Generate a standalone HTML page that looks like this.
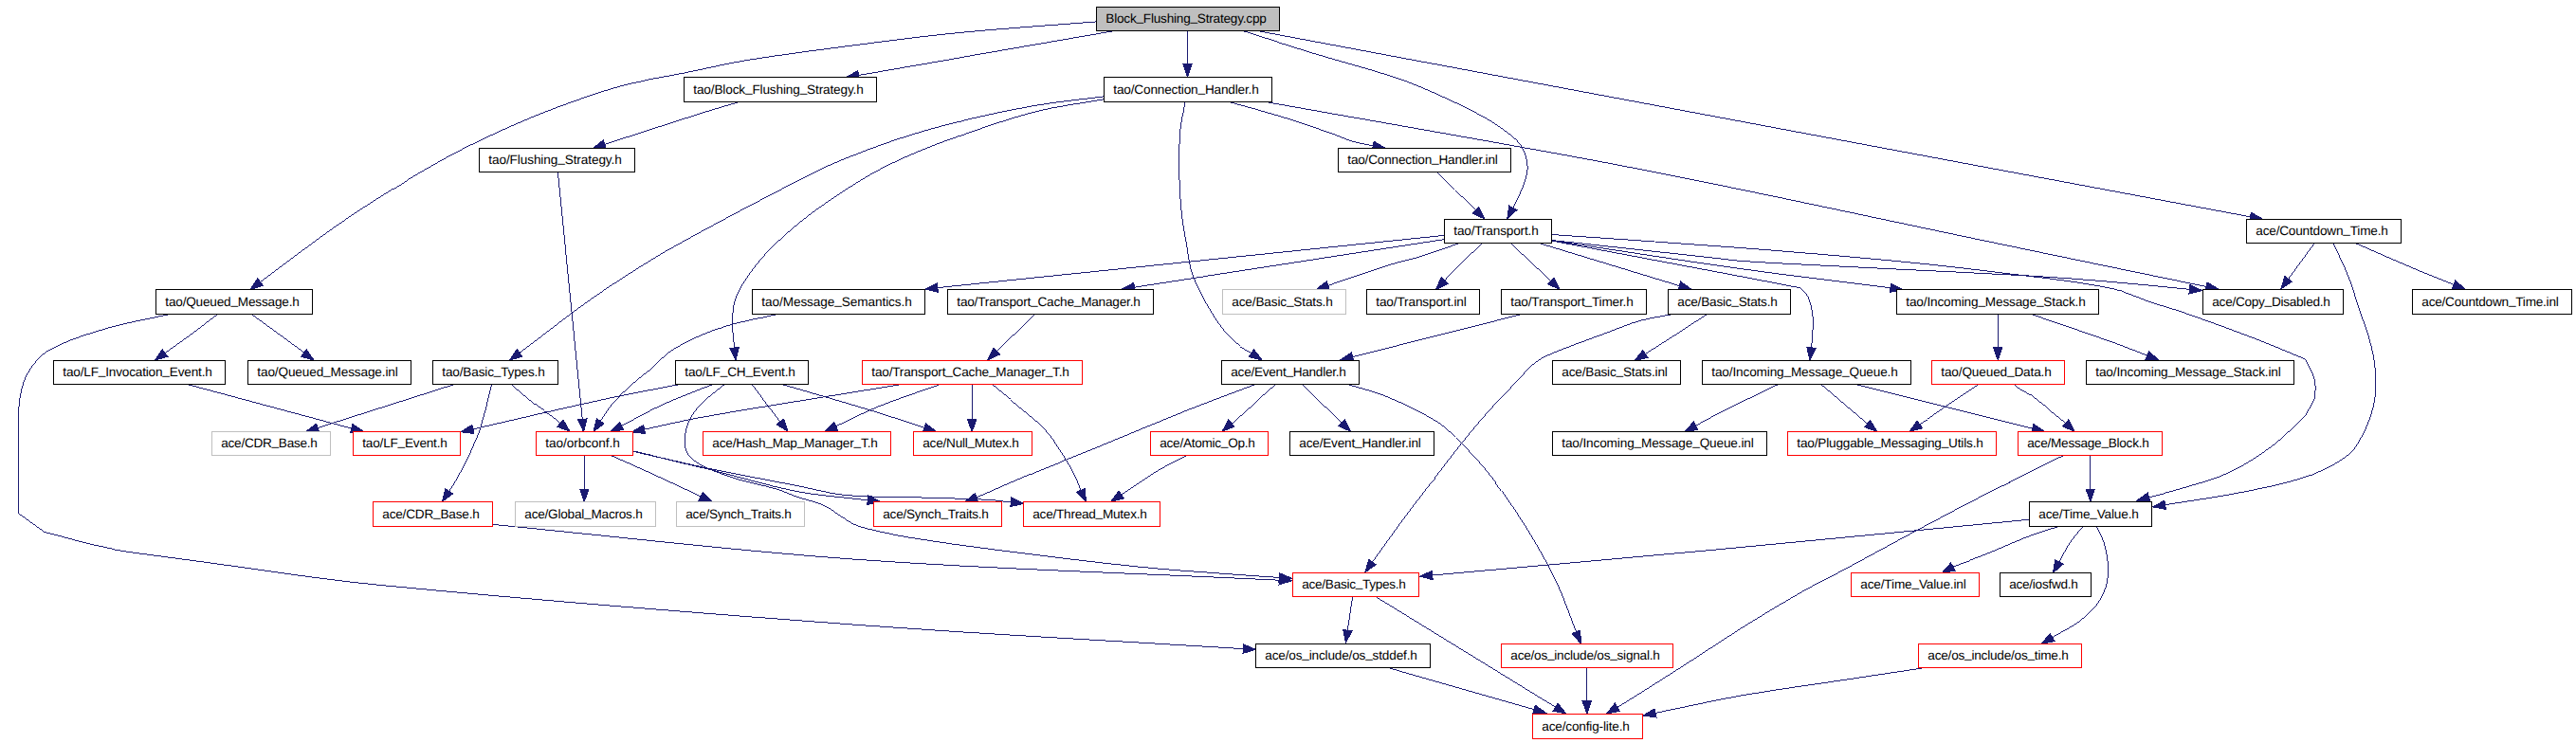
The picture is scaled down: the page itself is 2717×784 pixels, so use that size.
<!DOCTYPE html>
<html><head><meta charset="utf-8"><title>Block_Flushing_Strategy.cpp include graph</title>
<style>
html,body{margin:0;padding:0;background:#fff;width:2717px;height:784px;overflow:hidden;}
svg{display:block;}
text{font-family:"Liberation Sans",sans-serif;text-rendering:geometricPrecision;}
</style></head><body>
<svg width="2717" height="784" viewBox="0 0 2717 784">
<g fill="none" stroke="#191970" stroke-width="0.99" shape-rendering="crispEdges">
<path d="M1175.8,32.5 L905.5,79.3"/>
<path d="M1252.5,32.5 L1252.5,67.8"/>
<path d="M1308.5,32.1 C1333.9,40.1 1359.3,48.3 1384.8,56.1 C1414.9,65.3 1445.5,72.9 1475.3,83.0 C1492.7,88.9 1509.5,96.6 1526.2,104.2 C1539.6,110.3 1552.9,116.7 1565.8,124.0 C1574.7,129.0 1583.2,134.6 1591.2,140.9 C1596.4,145.0 1601.9,149.3 1605.3,155.1 C1608.7,161.0 1610.5,168.0 1611.0,174.8 C1611.5,180.5 1609.9,186.3 1608.2,191.8 C1606.1,198.7 1602.7,205.1 1599.7,211.6 C1598.5,214.2 1597.1,216.7 1595.8,219.2"/>
<path d="M1156.0,22.9 C1107.5,26.8 1059.0,29.9 1010.6,34.6 C973.6,38.2 936.8,43.1 900.0,47.9 C862.5,52.8 824.9,57.5 787.6,63.6 C765.6,67.2 744.0,72.5 722.2,76.9 C703.6,80.6 684.9,83.3 666.5,87.8 C650.1,91.8 634.0,96.9 618.0,102.4 C598.4,109.1 579.1,116.4 559.9,124.2 C545.2,130.2 530.7,136.7 516.3,143.5 C501.6,150.4 486.9,157.5 472.7,165.3 C453.0,176.1 433.6,187.4 414.5,199.3 C393.6,212.3 372.8,225.6 352.7,239.8 C326.2,258.4 300.6,278.4 274.6,297.6"/>
<path d="M1326.0,32.5 L2373.5,228.8"/>
<path d="M779.1,107.7 C767.4,111.2 755.6,114.4 744.0,118.1 C708.6,129.3 673.2,140.9 637.9,152.3"/>
<path d="M588.4,181.4 L614.2,442.4"/>
<path d="M1296.0,107.5 C1314.0,112.5 1332.1,117.1 1350.0,122.6 C1368.3,128.2 1386.5,134.6 1404.6,140.9 C1412.2,143.5 1419.5,147.1 1427.2,149.4 C1434.1,151.4 1441.3,152.3 1448.3,153.8"/>
<path d="M1164.5,101.8 C1140.4,105.0 1116.2,107.2 1092.3,111.3 C1065.2,116.0 1038.2,121.8 1011.5,128.3 C989.7,133.6 968.2,139.8 946.9,146.8 C925.1,154.0 903.6,162.4 882.3,171.1 C871.3,175.6 860.6,181.0 850.0,186.4 C828.6,197.2 807.4,208.4 786.2,219.5 C771.1,227.5 756.0,235.5 741.0,243.7 C723.7,253.2 706.2,262.5 689.3,272.8 C667.4,286.2 645.7,300.1 624.6,314.8 C602.5,330.2 581.5,347.1 560.0,363.3 C556.0,366.3 552.0,369.3 548.0,372.3"/>
<path d="M1164.5,104.7 C1140.4,109.1 1116.0,111.8 1092.3,117.8 C1064.9,124.8 1038.2,134.4 1011.5,143.6 C995.2,149.2 979.0,155.4 963.1,162.2 C949.4,168.1 935.8,174.4 922.7,181.6 C908.8,189.2 895.5,197.8 882.3,206.6 C869.3,215.3 856.5,224.2 844.4,234.0 C832.0,244.1 819.9,254.8 808.9,266.4 C800.5,275.3 792.9,285.1 786.2,295.4 C781.6,302.5 777.2,310.0 774.9,318.1 C772.6,326.4 772.7,335.3 772.7,343.9 C772.7,352.6 774.2,361.2 774.9,369.8 C775.0,370.7 774.7,368.0 774.6,367.1"/>
<path d="M1249.8,107.5 C1249.0,112.0 1248.1,116.5 1247.4,121.0 C1246.3,127.7 1244.9,134.3 1244.5,141.1 C1243.7,155.2 1243.5,169.3 1243.8,183.4 C1244.1,197.5 1244.9,211.6 1246.3,225.7 C1247.3,235.5 1249.2,245.3 1251.0,255.0 C1253.3,267.5 1254.1,280.5 1258.7,292.3 C1265.0,308.5 1273.9,323.6 1283.3,338.2 C1289.2,347.3 1296.6,355.5 1304.5,362.9 C1308.9,367.1 1314.7,369.4 1319.9,372.7"/>
<path d="M1334.8,107.5 C1439.9,126.2 1545.0,144.3 1650.0,163.5 C1704.1,173.4 1758.1,184.0 1812.0,195.0 C1907.3,214.5 2002.4,235.1 2097.7,255.0 C2174.1,271.0 2250.6,286.7 2327.1,302.5"/>
<path d="M1516.3,181.9 C1522.4,188.0 1528.5,194.2 1534.7,200.3 C1541.9,207.5 1549.2,214.6 1556.4,221.7"/>
<path d="M1523.3,248.4 L988.9,303.6"/>
<path d="M1523.3,252.6 L1196.5,303.0"/>
<path d="M1538.8,256.8 C1525.9,261.2 1513.0,265.9 1500.0,270.0 C1489.8,273.2 1479.2,275.3 1469.0,278.5 C1446.1,285.7 1423.5,293.7 1400.7,301.3"/>
<path d="M1563.3,256.9 C1556.1,263.7 1548.8,270.3 1541.8,277.2 C1535.6,283.3 1529.7,289.7 1523.6,296.0"/>
<path d="M1593.6,256.9 C1599.5,262.4 1605.5,268.0 1611.4,273.5 C1619.5,281.1 1627.7,288.8 1635.8,296.5"/>
<path d="M1624.2,256.8 L1771.4,301.6"/>
<path d="M1636.6,254.0 C1703.1,266.6 1769.5,279.1 1836.0,291.7 C1857.1,295.7 1878.1,299.8 1899.2,303.9 C1901.9,307.1 1905.6,309.7 1907.2,313.6 C1910.0,320.2 1911.5,327.4 1912.1,334.6 C1912.8,342.7 1911.7,350.8 1911.3,358.9 C1911.2,361.6 1910.7,364.2 1910.4,366.9"/>
<path d="M1636.6,253.8 C1703.1,263.7 1769.4,274.3 1836.0,283.6 C1888.6,290.9 1941.3,297.0 1993.9,303.7"/>
<path d="M1636.6,253.5 C1694.7,259.8 1752.9,266.1 1811.0,272.5 C1819.3,273.4 1827.6,274.8 1836.0,275.4 C1857.3,277.0 1878.7,277.9 1900.0,279.0 C1933.3,280.7 1966.7,282.3 2000.0,284.0 C2048.4,286.4 2096.8,288.5 2145.2,291.3 C2171.6,292.9 2198.0,295.0 2224.4,297.2 C2252.7,299.6 2281.0,302.6 2309.4,305.3"/>
<path d="M1636.6,247.5 C1703.1,252.2 1769.6,256.4 1836.0,261.5 C1890.7,265.7 1945.4,270.3 2000.0,275.5 C2037.5,279.1 2074.9,283.3 2112.2,288.0 C2149.7,292.7 2187.4,296.4 2224.4,303.8 C2240.8,307.1 2256.0,314.8 2271.9,320.0 C2281.5,323.2 2291.3,325.7 2300.9,329.0 C2327.4,338.3 2353.8,347.8 2380.0,357.9 C2397.3,364.5 2414.2,372.0 2431.3,379.0 C2434.5,386.0 2439.2,392.5 2441.0,400.0 C2442.5,406.3 2442.6,413.2 2441.0,419.5 C2439.3,426.5 2434.5,432.4 2431.3,438.9 C2420.0,449.3 2409.6,460.8 2397.3,470.0 C2382.9,480.8 2367.7,490.8 2351.4,498.5 C2335.3,506.1 2317.9,510.2 2300.9,515.4 C2289.6,518.9 2278.0,521.6 2266.5,524.7"/>
<path d="M2440.7,257.3 L2413.6,294.3"/>
<path d="M2484.4,256.6 C2506.3,266.1 2528.1,275.7 2550.0,285.0 C2562.6,290.3 2575.4,295.3 2588.1,300.4"/>
<path d="M2460.8,256.2 C2466.2,268.0 2472.1,279.6 2476.9,291.7 C2480.7,301.2 2483.4,311.1 2486.6,320.8 C2491.5,335.8 2497.5,350.6 2501.2,366.0 C2504.0,377.6 2505.7,389.6 2506.0,401.6 C2506.2,411.3 2505.2,421.2 2502.8,430.6 C2500.3,440.7 2496.3,450.5 2491.5,459.7 C2487.6,467.1 2483.6,475.0 2476.9,480.0 C2464.4,489.4 2450.2,496.7 2435.5,501.9 C2413.7,509.7 2390.9,514.1 2368.2,518.7 C2340.2,524.4 2311.8,528.1 2283.6,532.7"/>
<path d="M229.3,331.7 C219.8,338.9 210.5,346.2 200.9,353.3 C192.0,359.8 183.0,366.1 174.0,372.5"/>
<path d="M264.5,331.7 L320.4,372.4"/>
<path d="M179.0,331.5 C157.0,336.5 134.6,340.0 113.0,346.4 C92.4,352.5 71.5,358.7 52.7,369.0 C43.4,374.1 36.2,382.7 30.5,391.6 C25.5,399.4 23.0,408.8 21.3,417.9 C19.2,429.0 19.6,440.5 19.4,451.8 C18.9,481.7 19.4,511.7 19.4,541.6 C28.8,548.3 38.1,555.1 47.5,561.8 C71.5,567.8 95.4,574.5 119.6,579.7 C131.4,582.2 143.4,583.4 155.3,585.1 C170.2,587.2 185.1,589.0 200.0,591.0 C266.7,599.8 333.1,610.8 400.0,617.3 C568.5,633.6 737.2,647.0 906.0,659.5 C1041.0,669.5 1176.2,676.2 1311.3,684.6"/>
<path d="M818.6,331.6 C798.6,336.5 778.0,339.7 758.5,346.4 C741.7,352.2 725.3,359.5 710.0,368.7 C700.8,374.2 694.0,383.1 685.8,390.0 C679.4,395.4 672.4,400.2 666.2,405.8 C659.4,411.9 652.8,418.3 646.8,425.2 C641.9,430.9 638.1,437.4 633.8,443.5 C633.6,443.8 633.3,444.2 633.1,444.5"/>
<path d="M1091.1,332.2 L1051.3,370.6"/>
<path d="M1602.5,332.2 L1426.6,376.6"/>
<path d="M1800.8,331.3 C1788.2,339.5 1775.7,347.8 1763.1,355.9 C1753.9,361.8 1744.6,367.6 1735.4,373.4"/>
<path d="M1765.4,331.3 C1753.2,333.8 1740.7,335.3 1728.7,338.7 C1717.0,342.0 1705.8,347.1 1694.4,351.3 C1683.0,355.5 1671.5,359.5 1660.1,363.9 C1649.7,367.9 1639.1,371.5 1629.2,376.5 C1623.8,379.2 1618.9,382.8 1614.3,386.8 C1609.8,390.7 1606.3,395.7 1602.2,400.0 C1592.4,410.4 1582.1,420.4 1572.5,431.1 C1561.8,443.0 1551.6,455.3 1541.5,467.8 C1531.8,479.8 1522.6,492.3 1513.2,504.5 C1503.8,516.7 1494.3,528.9 1485.0,541.2 C1477.3,551.5 1469.9,561.9 1462.4,572.3 C1457.4,579.2 1452.5,586.1 1447.5,593.1"/>
<path d="M2107.2,332.2 L2107.2,366.6"/>
<path d="M2144.3,332.2 C2172.2,341.8 2200.2,351.1 2228.0,361.0 C2240.4,365.4 2252.5,370.5 2264.7,375.2"/>
<path d="M199.3,406.0 L370.8,452.1"/>
<path d="M477.9,406.0 L335.1,451.5"/>
<path d="M539.3,405.7 C547.4,412.5 555.2,419.7 563.5,426.2 C570.0,431.3 577.1,435.5 583.7,440.4 C586.2,442.3 588.5,444.5 590.9,446.6"/>
<path d="M518.4,406.0 C514.9,419.8 512.2,433.9 507.8,447.5 C503.9,459.6 499.0,471.3 493.7,482.8 C489.0,492.8 483.3,502.4 477.9,512.0 C476.6,514.2 475.1,516.3 473.7,518.4"/>
<path d="M717.2,405.5 C691.5,410.6 665.6,415.1 640.0,420.7 C592.8,430.9 545.9,442.1 498.9,452.9"/>
<path d="M750.9,405.9 C733.7,412.8 716.2,419.0 699.4,426.7 C684.5,433.5 670.3,441.8 655.7,449.3"/>
<path d="M793.4,405.9 C799.0,413.5 804.6,421.2 810.3,428.7 C814.4,434.2 818.7,439.5 822.9,445.0"/>
<path d="M826.1,405.9 C856.5,414.8 886.9,423.4 917.2,432.6 C936.6,438.5 955.7,445.1 974.9,451.3"/>
<path d="M763.7,405.9 C755.5,412.8 746.4,418.9 739.0,426.7 C733.7,432.4 729.1,438.9 726.0,446.0 C723.4,451.9 722.4,458.5 722.2,465.0 C722.1,469.5 722.9,474.3 725.1,478.2 C727.4,482.3 731.2,485.4 735.0,488.0 C739.9,491.4 745.4,493.7 750.9,496.0 C760.0,499.7 769.2,503.1 778.6,505.9 C791.7,509.7 805.1,512.0 818.2,515.8 C825.6,518.0 832.7,521.5 840.0,524.0 C849.8,527.4 860.2,529.3 869.7,533.6 C876.5,536.7 882.1,542.1 888.5,546.0 C893.2,548.9 897.8,552.2 903.0,554.2 C910.4,557.1 918.3,558.7 926.0,560.5 C937.7,563.2 949.4,565.6 961.2,567.5 C989.4,572.0 1017.7,576.0 1046.0,579.6 C1097.3,586.1 1148.6,592.7 1200.0,598.0 C1233.3,601.5 1266.7,603.5 1300.0,606.0 C1316.4,607.3 1332.8,608.3 1349.2,609.4"/>
<path d="M952.8,405.3 C921.1,410.4 889.5,415.5 857.8,420.7 C818.2,427.2 778.5,433.3 739.0,440.5 C719.1,444.1 699.4,448.9 679.6,453.1"/>
<path d="M992.4,405.3 C970.6,413.1 948.6,420.1 927.1,428.7 C911.6,434.9 896.8,442.8 881.7,449.8"/>
<path d="M1025.2,406.0 L1025.2,442.4"/>
<path d="M1045.5,405.5 C1058.8,416.4 1072.3,427.1 1085.4,438.2 C1091.6,443.5 1098.2,448.4 1103.6,454.5 C1108.5,460.0 1112.3,466.5 1116.3,472.7 C1121.4,480.4 1126.5,488.1 1130.9,496.3 C1134.5,503.0 1137.0,510.3 1140.1,517.3"/>
<path d="M1345.5,405.5 C1338.7,411.4 1332.0,417.4 1325.2,423.3 C1316.6,430.9 1308.1,438.4 1299.5,446.0 C1299.3,446.2 1299.1,446.4 1298.8,446.6"/>
<path d="M1373.3,405.5 L1415.2,446.2"/>
<path d="M1324.3,405.5 C1300.4,414.6 1276.3,423.2 1252.6,432.7 C1217.9,446.5 1183.6,461.3 1149.0,475.4 C1128.6,483.7 1107.9,491.5 1087.5,500.0 C1068.5,507.9 1049.8,516.3 1031.0,524.5 C1030.7,524.7 1030.3,524.8 1029.9,524.9"/>
<path d="M1421.4,405.5 C1435.1,409.8 1449.2,412.9 1462.4,418.4 C1480.8,426.1 1499.1,434.6 1516.0,445.2 C1525.6,451.2 1533.5,459.8 1541.5,467.8 C1551.4,477.7 1561.0,488.0 1569.7,498.9 C1579.8,511.5 1588.9,525.0 1598.0,538.4 C1605.5,549.4 1612.5,560.8 1619.2,572.3 C1627.2,586.2 1635.2,600.1 1641.9,614.6 C1649.7,631.6 1655.6,649.3 1662.5,666.7"/>
<path d="M1874.5,406.0 C1853.3,416.3 1832.0,426.4 1811.0,437.0 C1803.4,440.8 1796.1,445.2 1788.6,449.3"/>
<path d="M1920.8,405.6 C1927.0,410.9 1933.2,416.1 1939.4,421.4 C1946.7,427.6 1953.9,433.8 1961.2,440.0 C1964.0,442.4 1966.8,444.7 1969.6,447.0"/>
<path d="M1959.0,406.0 L2143.8,452.2"/>
<path d="M2087.0,405.6 C2078.2,411.4 2069.3,417.1 2060.6,423.0 C2050.1,430.1 2039.9,437.5 2029.5,444.7 C2028.0,445.8 2026.4,446.8 2024.9,447.9"/>
<path d="M2124.3,405.7 C2125.9,407.1 2127.4,408.6 2129.2,409.8 C2132.8,412.2 2137.0,413.6 2140.5,416.2 C2153.7,426.0 2166.3,436.7 2179.2,446.9 C2179.4,447.1 2178.8,446.5 2178.6,446.3"/>
<path d="M616.4,481.0 L616.3,516.2"/>
<path d="M645.4,481.0 C659.6,487.3 673.9,493.5 688.0,500.0 C705.1,507.8 722.2,515.9 739.2,523.8"/>
<path d="M667.5,476.5 C693.7,482.6 719.9,488.4 746.0,494.8 C777.4,502.4 808.3,512.3 840.0,518.5 C864.8,523.3 890.2,524.7 915.3,527.8"/>
<path d="M667.5,476.0 C693.7,482.0 719.7,488.5 746.0,494.0 C777.2,500.6 808.7,506.2 840.0,512.4 C856.2,515.6 872.1,520.1 888.5,522.1 C905.3,524.2 922.4,523.9 939.3,524.5 C952.6,524.9 966.0,524.8 979.3,525.1 C988.5,525.3 997.8,525.7 1007.0,526.0 C1018.6,526.4 1030.2,526.6 1041.8,527.3 C1047.2,527.6 1052.6,528.4 1058.0,529.0 C1060.8,529.3 1063.6,529.6 1066.4,529.9"/>
<path d="M1251.7,480.5 C1241.7,485.8 1231.4,490.5 1221.7,496.3 C1208.4,504.4 1195.7,513.5 1182.7,522.1"/>
<path d="M2204.8,481.0 L2204.8,516.0"/>
<path d="M2176.6,480.5 C2155.2,491.0 2133.7,501.2 2112.5,512.0 C2081.9,527.6 2051.5,543.8 2021.2,559.9 C1996.4,573.1 1971.9,586.7 1947.1,600.0 C1931.5,608.4 1915.4,616.0 1900.0,624.8 C1879.1,636.7 1858.5,649.2 1838.1,661.9 C1821.4,672.3 1805.2,683.5 1788.6,694.1 C1770.5,705.8 1752.3,717.3 1734.1,728.8 C1727.5,733.0 1720.9,737.1 1714.3,741.2 C1711.5,742.9 1708.7,744.6 1705.8,746.2"/>
<path d="M519.5,553.5 C648.3,565.8 776.9,581.4 906.0,590.5 C1053.5,600.9 1201.5,604.9 1349.2,612.2"/>
<path d="M2140.6,548.2 C2030.7,558.8 1920.9,569.6 1811.0,579.9 C1710.9,589.2 1610.8,598.0 1510.7,607.0"/>
<path d="M2170.6,555.8 C2161.2,558.8 2151.6,561.4 2142.3,564.9 C2125.9,571.1 2110.1,578.6 2093.8,585.1 C2083.1,589.4 2072.2,593.1 2061.5,597.2 C2060.9,597.4 2060.5,597.8 2059.9,598.1"/>
<path d="M2196.5,556.0 C2192.1,561.5 2187.2,566.7 2183.3,572.6 C2179.0,579.1 2175.7,586.2 2171.9,593.0"/>
<path d="M2211.6,556.0 C2214.1,561.5 2217.4,566.8 2219.1,572.6 C2221.4,580.6 2223.1,588.8 2223.4,597.1 C2223.7,604.7 2223.3,612.5 2221.0,619.7 C2218.6,627.2 2214.6,634.3 2209.7,640.4 C2204.4,647.0 2197.6,652.3 2190.8,657.3 C2183.7,662.4 2175.7,666.1 2168.2,670.5 C2167.0,671.2 2165.8,671.9 2164.6,672.6"/>
<path d="M1426.6,629.7 L1421.3,665.2"/>
<path d="M1451.1,629.7 L1640.7,746.2"/>
<path d="M1463.8,704.5 L1618.0,748.7"/>
<path d="M1673.8,704.5 L1673.8,739.9"/>
<path d="M2030.7,704.5 C2007.1,708.1 1983.6,711.6 1960.0,715.2 C1919.4,721.4 1878.6,726.7 1838.1,733.7 C1807.2,739.1 1776.7,746.2 1745.9,752.4"/>
</g>
<g fill="#191970" stroke="#191970" stroke-width="1" stroke-linejoin="miter" shape-rendering="crispEdges">
<polygon points="904.7,74.6 892.5,81.5 906.3,83.9"/>
<polygon points="1247.8,67.8 1252.5,81.0 1257.2,67.8"/>
<polygon points="1591.6,217.1 1589.8,231.0 1600.0,221.4"/>
<polygon points="271.8,293.9 264.0,305.5 277.4,301.4"/>
<polygon points="2372.7,233.4 2386.5,231.2 2374.4,224.1"/>
<polygon points="636.4,147.9 625.3,156.4 639.3,156.8"/>
<polygon points="609.5,442.8 615.5,455.5 618.9,441.9"/>
<polygon points="1447.3,158.4 1461.2,156.5 1449.2,149.2"/>
<polygon points="545.2,368.5 537.4,380.2 550.8,376.1"/>
<polygon points="769.9,367.6 776.0,380.2 779.3,366.6"/>
<polygon points="1317.3,376.7 1331.0,379.8 1322.4,368.7"/>
<polygon points="2326.1,307.1 2340.0,305.2 2328.0,297.9"/>
<polygon points="1553.1,225.1 1565.8,231.0 1559.7,218.4"/>
<polygon points="988.4,299.0 975.8,305.0 989.4,308.3"/>
<polygon points="1195.8,298.3 1183.5,305.0 1197.3,307.6"/>
<polygon points="1399.2,296.9 1388.2,305.5 1402.2,305.8"/>
<polygon points="1520.2,292.7 1514.4,305.5 1527.0,299.3"/>
<polygon points="1632.6,299.9 1645.4,305.5 1639.0,293.0"/>
<polygon points="1770.0,306.1 1784.0,305.4 1772.7,297.1"/>
<polygon points="1905.8,366.4 1909.0,380.0 1915.1,367.4"/>
<polygon points="1993.3,308.4 2007.0,305.4 1994.5,299.1"/>
<polygon points="2308.9,309.9 2322.5,306.5 2309.8,300.6"/>
<polygon points="2265.3,520.1 2253.8,528.1 2267.8,529.2"/>
<polygon points="2409.8,291.6 2405.8,305.0 2417.4,297.1"/>
<polygon points="2586.3,304.8 2600.3,305.4 2589.8,296.1"/>
<polygon points="2282.9,528.1 2270.6,534.9 2284.4,537.4"/>
<polygon points="171.3,368.7 163.3,380.2 176.8,376.3"/>
<polygon points="317.7,376.2 331.1,380.2 323.2,368.6"/>
<polygon points="1311.0,689.3 1324.5,685.4 1311.6,679.9"/>
<polygon points="629.2,441.9 625.8,455.5 637.0,447.1"/>
<polygon points="1048.0,367.3 1041.8,379.8 1054.6,374.0"/>
<polygon points="1425.4,372.0 1413.8,379.8 1427.7,381.1"/>
<polygon points="1732.8,369.5 1724.2,380.5 1737.9,377.4"/>
<polygon points="1443.7,590.3 1439.8,603.8 1451.3,595.8"/>
<polygon points="2102.5,366.6 2107.2,379.8 2111.9,366.6"/>
<polygon points="2263.0,379.6 2277.0,380.0 2266.4,370.8"/>
<polygon points="369.5,456.6 383.5,455.5 372.0,447.5"/>
<polygon points="333.7,447.0 322.5,455.5 336.5,456.0"/>
<polygon points="587.8,450.2 600.9,455.2 594.0,443.0"/>
<polygon points="469.8,515.8 466.4,529.4 477.6,521.0"/>
<polygon points="497.8,448.3 486.0,455.8 499.9,457.4"/>
<polygon points="653.6,445.2 644.0,455.4 657.9,453.5"/>
<polygon points="819.2,447.8 831.0,455.4 826.6,442.1"/>
<polygon points="973.5,455.8 987.5,455.4 976.4,446.9"/>
<polygon points="1348.9,614.1 1362.4,610.3 1349.6,604.7"/>
<polygon points="678.6,448.5 666.7,455.8 680.6,457.7"/>
<polygon points="879.7,445.6 869.7,455.4 883.7,454.1"/>
<polygon points="1020.5,442.4 1025.2,455.6 1029.9,442.4"/>
<polygon points="1135.8,519.2 1145.4,529.4 1144.4,515.4"/>
<polygon points="1295.7,443.1 1289.0,455.4 1302.0,450.1"/>
<polygon points="1412.0,449.6 1424.7,455.4 1418.5,442.8"/>
<polygon points="1028.3,520.5 1017.6,529.6 1031.6,529.3"/>
<polygon points="1658.1,668.4 1667.3,679.0 1666.8,665.0"/>
<polygon points="1786.3,445.1 1777.0,455.6 1790.8,453.4"/>
<polygon points="1966.6,450.6 1979.8,455.4 1972.6,443.4"/>
<polygon points="2142.7,456.8 2156.6,455.4 2144.9,447.6"/>
<polygon points="2022.2,444.0 2014.0,455.4 2027.5,451.8"/>
<polygon points="2175.3,449.7 2188.1,455.4 2181.8,442.9"/>
<polygon points="611.6,516.2 616.2,529.4 621.0,516.2"/>
<polygon points="737.2,528.1 751.2,529.4 741.2,519.6"/>
<polygon points="914.7,532.4 928.4,529.4 915.9,523.1"/>
<polygon points="1065.9,534.6 1079.5,531.3 1066.9,525.2"/>
<polygon points="1180.1,518.2 1171.7,529.4 1185.3,526.0"/>
<polygon points="2200.1,516.0 2204.8,529.2 2209.5,516.0"/>
<polygon points="1703.4,742.2 1694.5,753.0 1708.2,750.3"/>
<polygon points="1349.0,616.9 1362.4,612.8 1349.4,607.5"/>
<polygon points="1510.3,602.3 1497.6,608.2 1511.2,611.7"/>
<polygon points="2057.6,594.0 2048.4,604.5 2062.2,602.2"/>
<polygon points="2167.8,590.7 2165.4,604.5 2176.0,595.3"/>
<polygon points="2162.3,668.5 2153.2,679.2 2167.0,676.6"/>
<polygon points="1416.7,664.6 1419.4,678.3 1426.0,665.9"/>
<polygon points="1638.2,750.2 1651.9,753.1 1643.1,742.2"/>
<polygon points="1616.7,753.2 1630.7,752.3 1619.3,744.1"/>
<polygon points="1669.1,739.9 1673.8,753.1 1678.5,739.9"/>
<polygon points="1745.0,747.8 1733.0,755.0 1746.9,757.0"/>
</g>
<g stroke-width="1" shape-rendering="crispEdges">
<rect x="1156.5" y="7.5" width="193" height="25" fill="#bfbfbf" stroke="#000"/>
<rect x="721.5" y="81.5" width="203" height="26" fill="#fff" stroke="#000"/>
<rect x="1164.5" y="81.5" width="177" height="26" fill="#fff" stroke="#000"/>
<rect x="505.5" y="156.5" width="164" height="25" fill="#fff" stroke="#000"/>
<rect x="1411.5" y="156.5" width="182" height="25" fill="#fff" stroke="#000"/>
<rect x="1523.5" y="231.5" width="113" height="25" fill="#fff" stroke="#000"/>
<rect x="2369.5" y="231.5" width="163" height="25" fill="#fff" stroke="#000"/>
<rect x="164.5" y="305.5" width="165" height="26" fill="#fff" stroke="#000"/>
<rect x="793.5" y="305.5" width="182" height="26" fill="#fff" stroke="#000"/>
<rect x="999.5" y="305.5" width="217" height="26" fill="#fff" stroke="#000"/>
<rect x="1289.5" y="305.5" width="130" height="26" fill="#fff" stroke="#bfbfbf"/>
<rect x="1441.5" y="305.5" width="119" height="26" fill="#fff" stroke="#000"/>
<rect x="1583.5" y="305.5" width="153" height="26" fill="#fff" stroke="#000"/>
<rect x="1759.5" y="305.5" width="129" height="26" fill="#fff" stroke="#000"/>
<rect x="2000.5" y="305.5" width="213" height="26" fill="#fff" stroke="#000"/>
<rect x="2323.5" y="305.5" width="148" height="26" fill="#fff" stroke="#000"/>
<rect x="2544.5" y="305.5" width="168" height="26" fill="#fff" stroke="#000"/>
<rect x="56.5" y="380.5" width="181" height="25" fill="#fff" stroke="#000"/>
<rect x="261.5" y="380.5" width="172" height="25" fill="#fff" stroke="#000"/>
<rect x="456.5" y="380.5" width="132" height="25" fill="#fff" stroke="#000"/>
<rect x="712.5" y="380.5" width="140" height="25" fill="#fff" stroke="#000"/>
<rect x="909.5" y="380.5" width="232" height="25" fill="#fff" stroke="#ff0000"/>
<rect x="1288.5" y="380.5" width="145" height="25" fill="#fff" stroke="#000"/>
<rect x="1637.5" y="380.5" width="135" height="25" fill="#fff" stroke="#000"/>
<rect x="1795.5" y="380.5" width="220" height="25" fill="#fff" stroke="#000"/>
<rect x="2037.5" y="380.5" width="140" height="25" fill="#fff" stroke="#ff0000"/>
<rect x="2200.5" y="380.5" width="219" height="25" fill="#fff" stroke="#000"/>
<rect x="223.5" y="455.5" width="125" height="25" fill="#fff" stroke="#bfbfbf"/>
<rect x="372.5" y="455.5" width="113" height="25" fill="#fff" stroke="#ff0000"/>
<rect x="565.5" y="455.5" width="102" height="25" fill="#fff" stroke="#ff0000"/>
<rect x="741.5" y="455.5" width="198" height="25" fill="#fff" stroke="#ff0000"/>
<rect x="963.5" y="455.5" width="125" height="25" fill="#fff" stroke="#ff0000"/>
<rect x="1213.5" y="455.5" width="124" height="25" fill="#fff" stroke="#ff0000"/>
<rect x="1360.5" y="455.5" width="152" height="25" fill="#fff" stroke="#000"/>
<rect x="1637.5" y="455.5" width="226" height="25" fill="#fff" stroke="#000"/>
<rect x="1885.5" y="455.5" width="220" height="25" fill="#fff" stroke="#ff0000"/>
<rect x="2128.5" y="455.5" width="152" height="25" fill="#fff" stroke="#ff0000"/>
<rect x="393.5" y="529.5" width="126" height="26" fill="#fff" stroke="#ff0000"/>
<rect x="543.5" y="529.5" width="148" height="26" fill="#fff" stroke="#bfbfbf"/>
<rect x="713.5" y="529.5" width="135" height="26" fill="#fff" stroke="#bfbfbf"/>
<rect x="921.5" y="529.5" width="135" height="26" fill="#fff" stroke="#ff0000"/>
<rect x="1079.5" y="529.5" width="144" height="26" fill="#fff" stroke="#ff0000"/>
<rect x="2140.5" y="529.5" width="129" height="26" fill="#fff" stroke="#000"/>
<rect x="1363.5" y="604.5" width="133" height="25" fill="#fff" stroke="#ff0000"/>
<rect x="1952.5" y="604.5" width="135" height="25" fill="#fff" stroke="#ff0000"/>
<rect x="2109.5" y="604.5" width="96" height="25" fill="#fff" stroke="#000"/>
<rect x="1324.5" y="679.5" width="184" height="25" fill="#fff" stroke="#000"/>
<rect x="1583.5" y="679.5" width="181" height="25" fill="#fff" stroke="#ff0000"/>
<rect x="2023.5" y="679.5" width="172" height="25" fill="#fff" stroke="#ff0000"/>
<rect x="1616.5" y="753.5" width="116" height="26" fill="#fff" stroke="#ff0000"/>
</g>
<g font-family="Liberation Sans, sans-serif" font-size="13.6px" fill="#000" lengthAdjust="spacingAndGlyphs">
<text x="1166.3" y="24.4" textLength="169.5">Block<tspan dy="-2">_</tspan><tspan dy="2">Flushing</tspan><tspan dy="-2">_</tspan><tspan dy="2">Strategy.cpp</tspan></text>
<text x="731.3" y="98.9" textLength="179.5">tao/Block<tspan dy="-2">_</tspan><tspan dy="2">Flushing</tspan><tspan dy="-2">_</tspan><tspan dy="2">Strategy.h</tspan></text>
<text x="1174.3" y="98.9" textLength="153.5">tao/Connection<tspan dy="-2">_</tspan><tspan dy="2">Handler.h</tspan></text>
<text x="515.3" y="173.4" textLength="140.5">tao/Flushing<tspan dy="-2">_</tspan><tspan dy="2">Strategy.h</tspan></text>
<text x="1421.3" y="173.4" textLength="158.5">tao/Connection<tspan dy="-2">_</tspan><tspan dy="2">Handler.inl</tspan></text>
<text x="1533.3" y="248.4" textLength="89.5">tao/Transport.h</text>
<text x="2379.3" y="248.4" textLength="139.5">ace/Countdown<tspan dy="-2">_</tspan><tspan dy="2">Time.h</tspan></text>
<text x="174.3" y="322.9" textLength="141.5">tao/Queued<tspan dy="-2">_</tspan><tspan dy="2">Message.h</tspan></text>
<text x="803.3" y="322.9" textLength="158.5">tao/Message<tspan dy="-2">_</tspan><tspan dy="2">Semantics.h</tspan></text>
<text x="1009.3" y="322.9" textLength="193.5">tao/Transport<tspan dy="-2">_</tspan><tspan dy="2">Cache</tspan><tspan dy="-2">_</tspan><tspan dy="2">Manager.h</tspan></text>
<text x="1299.3" y="322.9" textLength="106.5">ace/Basic<tspan dy="-2">_</tspan><tspan dy="2">Stats.h</tspan></text>
<text x="1451.3" y="322.9" textLength="95.5">tao/Transport.inl</text>
<text x="1593.3" y="322.9" textLength="129.5">tao/Transport<tspan dy="-2">_</tspan><tspan dy="2">Timer.h</tspan></text>
<text x="1769.3" y="322.9" textLength="105.5">ace/Basic<tspan dy="-2">_</tspan><tspan dy="2">Stats.h</tspan></text>
<text x="2010.3" y="322.9" textLength="189.5">tao/Incoming<tspan dy="-2">_</tspan><tspan dy="2">Message</tspan><tspan dy="-2">_</tspan><tspan dy="2">Stack.h</tspan></text>
<text x="2333.3" y="322.9" textLength="124.5">ace/Copy<tspan dy="-2">_</tspan><tspan dy="2">Disabled.h</tspan></text>
<text x="2554.3" y="322.9" textLength="144.5">ace/Countdown<tspan dy="-2">_</tspan><tspan dy="2">Time.inl</tspan></text>
<text x="66.3" y="397.4" textLength="157.5">tao/LF<tspan dy="-2">_</tspan><tspan dy="2">Invocation</tspan><tspan dy="-2">_</tspan><tspan dy="2">Event.h</tspan></text>
<text x="271.3" y="397.4" textLength="148.5">tao/Queued<tspan dy="-2">_</tspan><tspan dy="2">Message.inl</tspan></text>
<text x="466.3" y="397.4" textLength="108.5">tao/Basic<tspan dy="-2">_</tspan><tspan dy="2">Types.h</tspan></text>
<text x="722.3" y="397.4" textLength="116.5">tao/LF<tspan dy="-2">_</tspan><tspan dy="2">CH</tspan><tspan dy="-2">_</tspan><tspan dy="2">Event.h</tspan></text>
<text x="919.3" y="397.4" textLength="208.5">tao/Transport<tspan dy="-2">_</tspan><tspan dy="2">Cache</tspan><tspan dy="-2">_</tspan><tspan dy="2">Manager</tspan><tspan dy="-2">_</tspan><tspan dy="2">T.h</tspan></text>
<text x="1298.3" y="397.4" textLength="121.5">ace/Event<tspan dy="-2">_</tspan><tspan dy="2">Handler.h</tspan></text>
<text x="1647.3" y="397.4" textLength="111.5">ace/Basic<tspan dy="-2">_</tspan><tspan dy="2">Stats.inl</tspan></text>
<text x="1805.3" y="397.4" textLength="196.5">tao/Incoming<tspan dy="-2">_</tspan><tspan dy="2">Message</tspan><tspan dy="-2">_</tspan><tspan dy="2">Queue.h</tspan></text>
<text x="2047.3" y="397.4" textLength="116.5">tao/Queued<tspan dy="-2">_</tspan><tspan dy="2">Data.h</tspan></text>
<text x="2210.3" y="397.4" textLength="195.5">tao/Incoming<tspan dy="-2">_</tspan><tspan dy="2">Message</tspan><tspan dy="-2">_</tspan><tspan dy="2">Stack.inl</tspan></text>
<text x="233.3" y="472.4" textLength="101.5">ace/CDR<tspan dy="-2">_</tspan><tspan dy="2">Base.h</tspan></text>
<text x="382.3" y="472.4" textLength="89.5">tao/LF<tspan dy="-2">_</tspan><tspan dy="2">Event.h</tspan></text>
<text x="575.3" y="472.4" textLength="78.5">tao/orbconf.h</text>
<text x="751.3" y="472.4" textLength="174.5">ace/Hash<tspan dy="-2">_</tspan><tspan dy="2">Map</tspan><tspan dy="-2">_</tspan><tspan dy="2">Manager</tspan><tspan dy="-2">_</tspan><tspan dy="2">T.h</tspan></text>
<text x="973.3" y="472.4" textLength="101.5">ace/Null<tspan dy="-2">_</tspan><tspan dy="2">Mutex.h</tspan></text>
<text x="1223.3" y="472.4" textLength="100.5">ace/Atomic<tspan dy="-2">_</tspan><tspan dy="2">Op.h</tspan></text>
<text x="1370.3" y="472.4" textLength="128.5">ace/Event<tspan dy="-2">_</tspan><tspan dy="2">Handler.inl</tspan></text>
<text x="1647.3" y="472.4" textLength="202.5">tao/Incoming<tspan dy="-2">_</tspan><tspan dy="2">Message</tspan><tspan dy="-2">_</tspan><tspan dy="2">Queue.inl</tspan></text>
<text x="1895.3" y="472.4" textLength="196.5">tao/Pluggable<tspan dy="-2">_</tspan><tspan dy="2">Messaging</tspan><tspan dy="-2">_</tspan><tspan dy="2">Utils.h</tspan></text>
<text x="2138.3" y="472.4" textLength="128.5">ace/Message<tspan dy="-2">_</tspan><tspan dy="2">Block.h</tspan></text>
<text x="403.3" y="546.9" textLength="102.5">ace/CDR<tspan dy="-2">_</tspan><tspan dy="2">Base.h</tspan></text>
<text x="553.3" y="546.9" textLength="124.5">ace/Global<tspan dy="-2">_</tspan><tspan dy="2">Macros.h</tspan></text>
<text x="723.3" y="546.9" textLength="111.5">ace/Synch<tspan dy="-2">_</tspan><tspan dy="2">Traits.h</tspan></text>
<text x="931.3" y="546.9" textLength="111.5">ace/Synch<tspan dy="-2">_</tspan><tspan dy="2">Traits.h</tspan></text>
<text x="1089.3" y="546.9" textLength="120.5">ace/Thread<tspan dy="-2">_</tspan><tspan dy="2">Mutex.h</tspan></text>
<text x="2150.3" y="546.9" textLength="105.5">ace/Time<tspan dy="-2">_</tspan><tspan dy="2">Value.h</tspan></text>
<text x="1373.3" y="621.4" textLength="109.5">ace/Basic<tspan dy="-2">_</tspan><tspan dy="2">Types.h</tspan></text>
<text x="1962.3" y="621.4" textLength="111.5">ace/Time<tspan dy="-2">_</tspan><tspan dy="2">Value.inl</tspan></text>
<text x="2119.3" y="621.4" textLength="72.5">ace/iosfwd.h</text>
<text x="1334.3" y="696.4" textLength="160.5">ace/os<tspan dy="-2">_</tspan><tspan dy="2">include/os</tspan><tspan dy="-2">_</tspan><tspan dy="2">stddef.h</tspan></text>
<text x="1593.3" y="696.4" textLength="157.5">ace/os<tspan dy="-2">_</tspan><tspan dy="2">include/os</tspan><tspan dy="-2">_</tspan><tspan dy="2">signal.h</tspan></text>
<text x="2033.3" y="696.4" textLength="148.5">ace/os<tspan dy="-2">_</tspan><tspan dy="2">include/os</tspan><tspan dy="-2">_</tspan><tspan dy="2">time.h</tspan></text>
<text x="1626.3" y="770.9" textLength="92.5">ace/config-lite.h</text>
</g>
</svg>
</body></html>
